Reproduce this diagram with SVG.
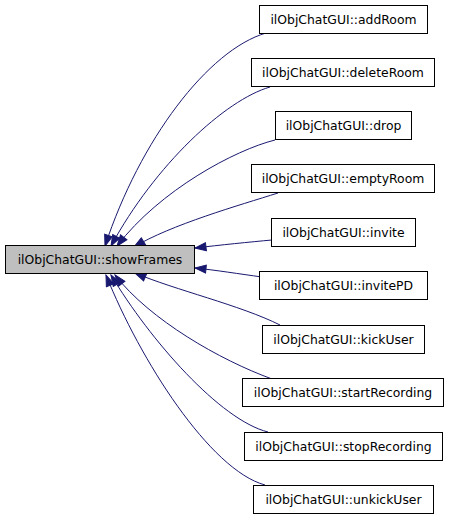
<svg xmlns="http://www.w3.org/2000/svg" width="451" height="520" viewBox="0 0 451 520">
<style>
.node rect{fill:#ffffff;stroke:#000000;stroke-width:1}
.node.main rect{fill:#bfbfbf}
.node text{font-family:"DejaVu Sans","Liberation Sans",sans-serif;font-size:12.4px;fill:#000000;text-anchor:middle}
.edges path{fill:none;stroke:#191970;stroke-width:1;marker-end:url(#ah)}
</style>
<defs>
<marker id="ah" markerUnits="userSpaceOnUse" markerWidth="13" markerHeight="10" viewBox="0 0 13 10" refX="12" refY="5" orient="auto">
<path d="M1,1 L12,5 L1,9 z" fill="#191970" stroke="#191970" stroke-width="1"/>
</marker>
</defs>
<rect width="451" height="520" fill="#ffffff"/>
<g class="edges" id="connectors">
<path d="M266,33 C208,50 140,140 105,246"/>
<path d="M270,87 C225,100 155,165 111,246"/>
<path d="M275,140 C235,150 160,190 117,246"/>
<path d="M278,193 C240,205 170,225 134,247"/>
<path d="M272,240 C250,242 220,245 195,248"/>
<path d="M262,277 C240,274 215,270 195,268"/>
<path d="M280,325 C240,305 175,290 135,273"/>
<path d="M272,379 C220,360 150,320 115,275"/>
<path d="M268,432 C220,420 150,340 111,275"/>
<path d="M265,485 C210,470 140,360 106,275"/>
</g>
<g class="node main" id="node-showFrames"><rect x="5.5" y="245.5" width="189" height="28"/><text x="100" y="263.5">ilObjChatGUI::showFrames</text></g>
<g class="node" id="node-addRoom"><rect x="259.5" y="5.5" width="168" height="28"/><text x="343.5" y="23.5">ilObjChatGUI::addRoom</text></g>
<g class="node" id="node-deleteRoom"><rect x="251.5" y="58.5" width="183" height="28"/><text x="343" y="76.5">ilObjChatGUI::deleteRoom</text></g>
<g class="node" id="node-drop"><rect x="275.5" y="111.5" width="136" height="28"/><text x="343.5" y="129.5">ilObjChatGUI::drop</text></g>
<g class="node" id="node-emptyRoom"><rect x="251.5" y="164.5" width="183" height="28"/><text x="343" y="182.5">ilObjChatGUI::emptyRoom</text></g>
<g class="node" id="node-invite"><rect x="271.5" y="218.5" width="144" height="28"/><text x="343.5" y="236.5">ilObjChatGUI::invite</text></g>
<g class="node" id="node-invitePD"><rect x="259.5" y="271.5" width="168" height="28"/><text x="343.5" y="289.5">ilObjChatGUI::invitePD</text></g>
<g class="node" id="node-kickUser"><rect x="262.5" y="325.5" width="162" height="28"/><text x="343.5" y="343.5">ilObjChatGUI::kickUser</text></g>
<g class="node" id="node-startRecording"><rect x="242.5" y="378.5" width="201" height="28"/><text x="343" y="396.5">ilObjChatGUI::startRecording</text></g>
<g class="node" id="node-stopRecording"><rect x="244.5" y="432.5" width="198" height="28"/><text x="343.5" y="450.5">ilObjChatGUI::stopRecording</text></g>
<g class="node" id="node-unkickUser"><rect x="253.5" y="485.5" width="180" height="28"/><text x="343.5" y="503.5">ilObjChatGUI::unkickUser</text></g>
</svg>
